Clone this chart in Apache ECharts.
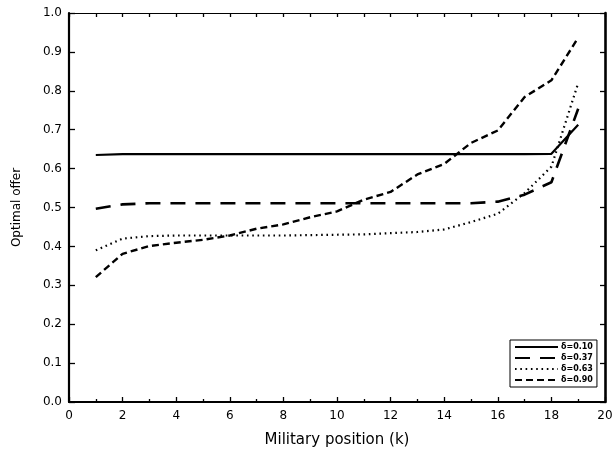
<!DOCTYPE html>
<html><head><meta charset="utf-8">
<script src="https://cdn.jsdelivr.net/npm/echarts@6/dist/echarts.min.js"></script>
<style>html,body{margin:0;padding:0;background:#fff}#c{width:616px;height:456px}</style>
</head><body><div id="c"></div>
<script>
const kValues = [1,2,3,4,5,6,7,8,9,10,11,12,13,14,15,16,17,18,19];
const d010 = [0.635,0.637,0.637,0.637,0.637,0.637,0.637,0.637,0.637,0.637,0.637,0.637,0.637,0.637,0.637,0.637,0.637,0.638,0.713];
const d037 = [0.497,0.508,0.511,0.511,0.511,0.511,0.511,0.511,0.511,0.511,0.511,0.511,0.511,0.511,0.511,0.515,0.533,0.565,0.754];
const d063 = [0.390,0.420,0.4265,0.428,0.428,0.428,0.428,0.428,0.429,0.430,0.431,0.434,0.437,0.4437,0.4625,0.484,0.537,0.605,0.820];
const d090 = [0.321,0.381,0.401,0.4095,0.417,0.428,0.4455,0.4565,0.475,0.490,0.520,0.540,0.585,0.612,0.666,0.698,0.784,0.827,0.9365];
const seriesNames = ['δ=0.10','δ=0.37','δ=0.63','δ=0.90'];
const xTicks = [0,2,4,6,8,10,12,14,16,18,20];
const yTicks = [0,0.1,0.2,0.3,0.4,0.5,0.6,0.7,0.8,0.9,1.0];

const pairs = arr => kValues.map((k,i)=>[k,arr[i]]);
const chart = echarts.init(document.getElementById('c'), null, {renderer:'canvas'});
const font = '"DejaVu Sans", Verdana, sans-serif';
const styles = [
  {width:2.2, type:'solid'},
  {width:2.6, type:[15,10]},
  {width:2.2, type:[1.6,3.7]},
  {width:2.4, type:[7,4]}
];
const datasets = [d010,d037,d063,d090];
const mainSeries = seriesNames.map((n,i)=>({
  name:n, type:'line', xAxisIndex:0, yAxisIndex:0,
  data:pairs(datasets[i]), symbol:'none', smooth:false,
  lineStyle:{color:'#000', width:styles[i].width, type:styles[i].type, cap:'butt'},
  itemStyle:{color:'#000'}
}));
// invisible helper series so the top / right frame axes are drawn
mainSeries.push({
  name:'frame', type:'line', xAxisIndex:1, yAxisIndex:1,
  data:[[xTicks[0],yTicks[0]],[xTicks[xTicks.length-1],yTicks[yTicks.length-1]]],
  symbol:'none', silent:true, lineStyle:{opacity:0}, tooltip:{show:false}
});
const tickStyle = {color:'#000', width:1.3};
chart.setOption({
  animation:false,
  backgroundColor:'#fff',
  grid:{left:69,right:11,top:13,bottom:54},
  legend:{
    orient:'vertical', left:510, top:340,
    data:seriesNames,
    itemWidth:43, itemHeight:8, itemGap:3,
    padding:[3,4,3,4],
    borderColor:'#000', borderWidth:1,
    backgroundColor:'#fff',
    itemStyle:{opacity:0},
    textStyle:{fontSize:8, fontWeight:'bold', color:'#000', fontFamily:font, padding:[0,0,0,-2]}
  },
  xAxis:[{
    type:'value', min:xTicks[0], max:xTicks[xTicks.length-1], interval:2,
    name:'Military position (k)', nameLocation:'middle', nameGap:31,
    nameTextStyle:{fontSize:15, color:'#000', fontFamily:font},
    axisLine:{onZero:false, lineStyle:{color:'#000', width:2.2}},
    axisTick:{show:true, inside:true, length:5, lineStyle:tickStyle},
    minorTick:{show:true, splitNumber:2, length:3, lineStyle:tickStyle},
    axisLabel:{fontSize:12, color:'#000', margin:8, fontFamily:font},
    splitLine:{show:false}
  },{
    type:'value', position:'top', min:0, max:20, interval:1,
    axisLine:{show:true, onZero:false, lineStyle:{color:'#000', width:1.2}},
    axisTick:{show:true, inside:true, length:4, lineStyle:tickStyle},
    axisLabel:{show:false}, splitLine:{show:false}
  }],
  yAxis:[{
    type:'value', min:yTicks[0], max:yTicks[yTicks.length-1], interval:0.1,
    name:'Optimal offer', nameLocation:'middle', nameGap:46,
    nameTextStyle:{fontSize:12, color:'#000', fontFamily:font},
    axisLine:{show:true, onZero:false, lineStyle:{color:'#000', width:2.2}},
    axisTick:{show:true, inside:true, length:6, lineStyle:tickStyle},
    axisLabel:{fontSize:12, color:'#000', margin:7, fontFamily:font, formatter:v=>v.toFixed(1)},
    splitLine:{show:false}
  },{
    type:'value', position:'right', min:0, max:1, interval:0.1,
    axisLine:{show:true, onZero:false, lineStyle:{color:'#000', width:2.6}},
    axisTick:{show:true, inside:true, length:5, lineStyle:tickStyle},
    axisLabel:{show:false}, splitLine:{show:false}
  }],
  series: mainSeries
});
</script></body></html>
